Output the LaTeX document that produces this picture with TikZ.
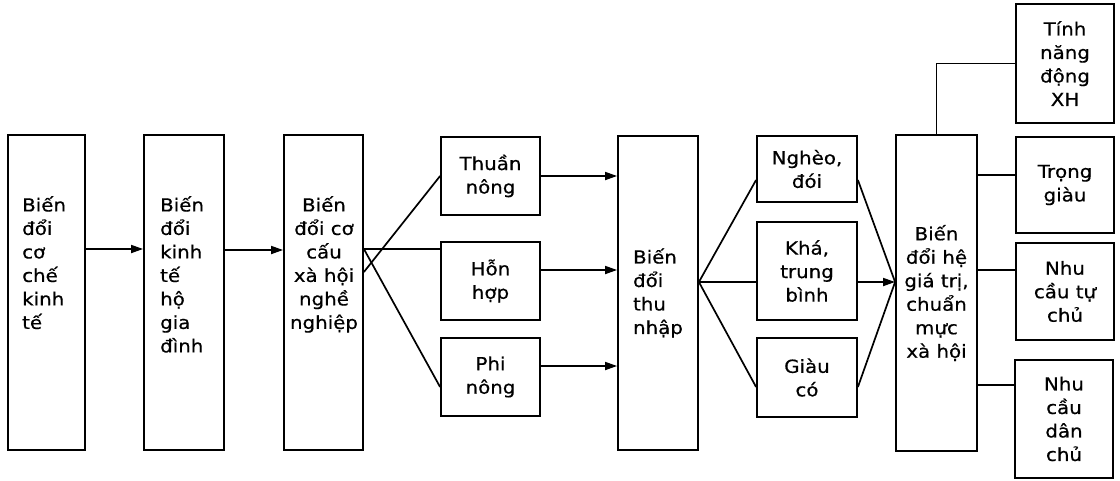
\documentclass[tikz,border=0pt]{standalone}
\usepackage{fontspec}
\setmainfont[FakeStretch=1.1,FakeBold=0.6]{DejaVu Sans}
\usetikzlibrary{arrows.meta,calc}
\begin{document}
\begin{tikzpicture}[x=1pt,y=-1pt,
  fnt/.style={font=\fontsize{18}{23.5}\selectfont},
  box/.style={draw,line width=1.8pt,inner sep=0pt,align=center,fnt},
  txt/.style={inner sep=0pt,fnt},
  conn/.style={line width=1.7pt},
  arr/.style={conn,-{Triangle[length=12pt,width=8pt]}}]
\useasboundingbox (0,0) rectangle (1120,480);
% tall boxes
\node[box,minimum width=77pt,minimum height=315pt] (b1) at (46.5,292.5) {};
\node[box,minimum width=80pt,minimum height=315pt] (b2) at (184,292.5) {};
\node[box,minimum width=79pt,minimum height=315pt] (b3) at (323.5,292.5) {};
\node[txt,align=left,anchor=north west] (t1) at (22,196) {Biến\\đổi\\cơ\\chế\\kinh\\tế};
\node[txt,align=left,anchor=north west] (t2) at (160,196) {Biến\\đổi\\kinh\\tế\\hộ\\gia\\đình};
\node[txt,align=center,anchor=north] (t3) at (324,196) {Biến\\đổi cơ\\cấu\\xà hội\\nghề\\nghiệp};
% occupation boxes
\node[box,minimum width=99pt,minimum height=78pt] (thuan) at (490.5,176) {Thuần\\nông};
\node[box,minimum width=99pt,minimum height=78pt] (hon) at (490.5,281) {Hỗn\\hợp};
\node[box,minimum width=99pt,minimum height=78pt] (phi) at (490.5,377) {Phi\\nông};
% income
\node[box,align=left,minimum width=80pt,minimum height=314pt] (b5) at (658,293) {Biến\\đổi\\thu\\nhập};
\node[box,minimum width=100pt,minimum height=66pt] (ngheo) at (807,169) {Nghèo,\\đói};
\node[box,minimum width=100pt,minimum height=98pt] (kha) at (807,271) {Khá,\\trung\\bình};
\node[box,minimum width=100pt,minimum height=79pt] (giau) at (807,377.5) {Giàu\\có};
% values
\node[box,minimum width=81pt,minimum height=316pt] (b9) at (936.5,293) {Biến\\đổi hệ\\giá trị,\\chuẩn\\mực\\xà hội};
\node[box,minimum width=98pt,minimum height=119pt] (tinh) at (1065,63.5) {Tính\\năng\\động\\XH};
\node[box,minimum width=98pt,minimum height=96pt] (trong) at (1065,185) {Trọng\\giàu};
\node[box,minimum width=98pt,minimum height=97pt] (tuchu) at (1065,291.5) {Nhu\\cầu tự\\chủ};
\node[box,minimum width=98pt,minimum height=118pt] (danchu) at (1064,419) {Nhu\\cầu\\dân\\chủ};
% connectors
\draw[arr] ([yshift=43.5pt]b1.east) -- ([yshift=43.5pt]b2.west);
\draw[arr] ([yshift=42.5pt]b2.east) -- ([yshift=42.5pt]b3.west);
\coordinate (p3) at ([yshift=43.5pt]b3.east);
\draw[conn] (p3) -- ([yshift=32pt]hon.west);
\draw[conn] ([yshift=20.5pt]b3.east) -- (thuan.west);
\draw[conn] (p3) -- ([yshift=-10pt]phi.west);
\draw[arr] (thuan.east) -- (thuan.east -| b5.west);
\draw[arr] ([yshift=11pt]hon.east) -- ([yshift=11pt]hon.east -| b5.west);
\draw[arr] ([yshift=11pt]phi.east) -- ([yshift=11pt]phi.east -| b5.west);
\coordinate (p5) at ([yshift=11pt]b5.east);
\draw[conn] (p5) -- ([yshift=-11pt]ngheo.west);
\draw[conn] (p5) -- ([yshift=-11pt]kha.west);
\draw[conn] (p5) -- ([yshift=-9.5pt]giau.west);
\coordinate (p9) at ([yshift=11pt]b9.west);
\draw[conn] ([yshift=-11pt]ngheo.east) -- (p9);
\draw[arr] ([yshift=-11pt]kha.east) -- (p9);
\draw[conn] ([yshift=-9.5pt]giau.east) -- (p9);
\draw[conn] (b9.north) |- (tinh.west);
\draw[conn] ([yshift=10pt]trong.west) -- ([yshift=10pt]trong.west -| b9.east);
\draw[conn] ([yshift=21.5pt]tuchu.west) -- ([yshift=21.5pt]tuchu.west -| b9.east);
\draw[conn] ([yshift=34pt]danchu.west) -- ([yshift=34pt]danchu.west -| b9.east);
\end{tikzpicture}
\end{document}
